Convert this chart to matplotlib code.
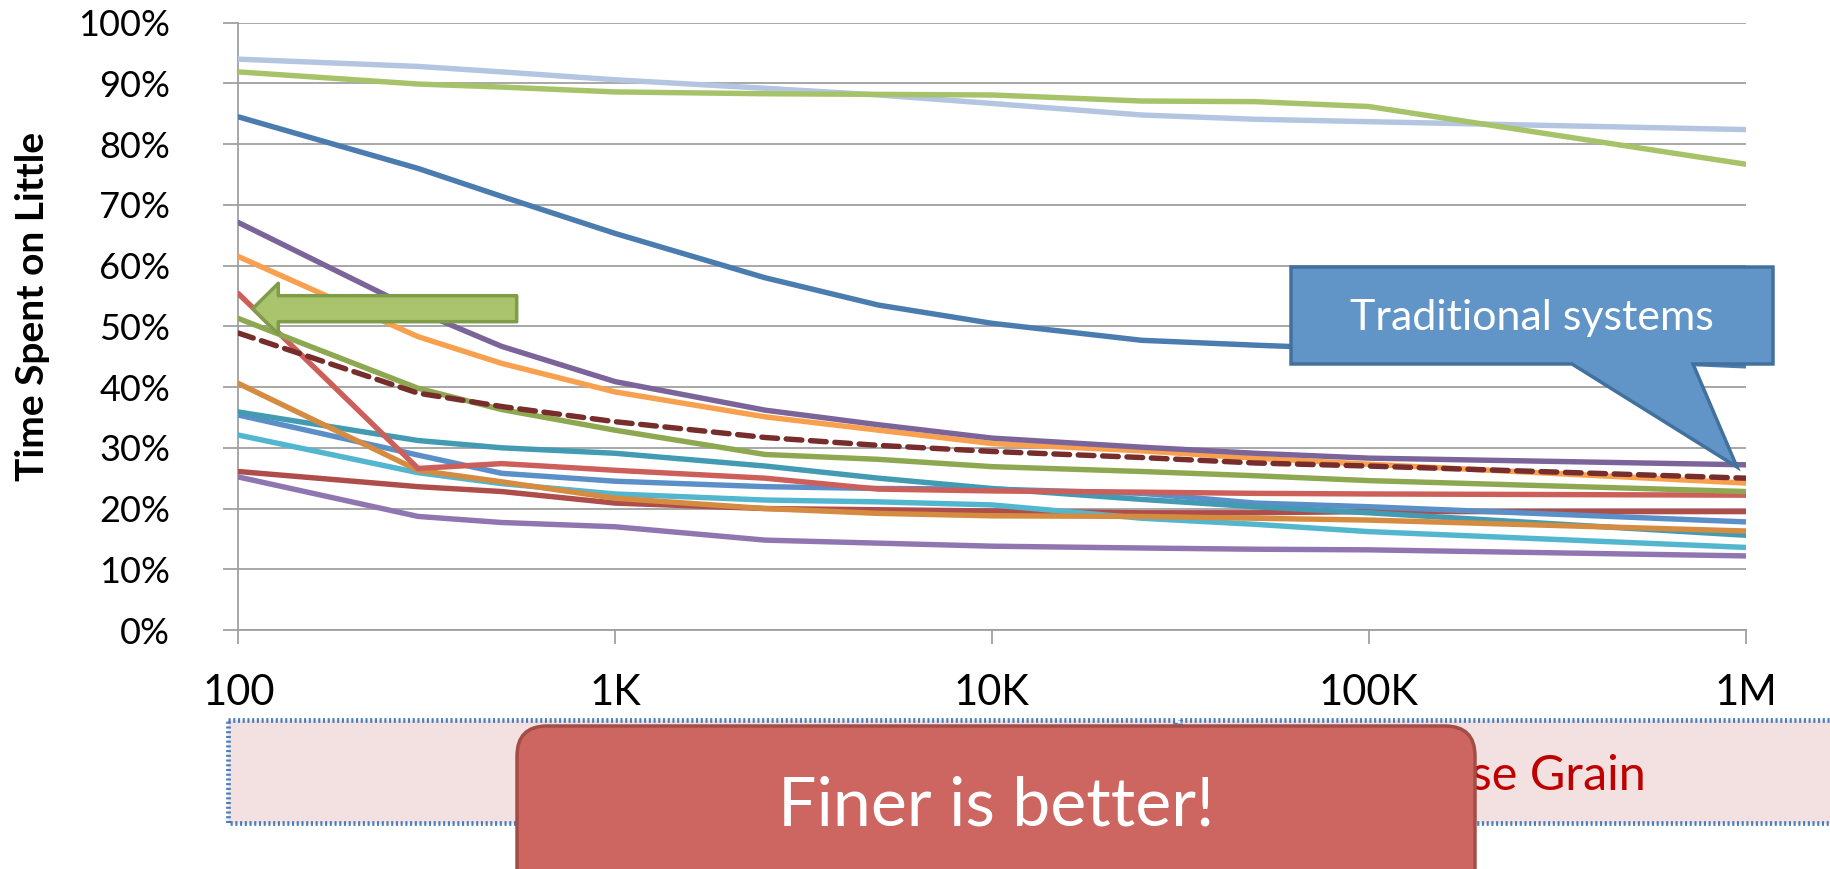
import matplotlib
matplotlib.use("Agg")
import matplotlib.pyplot as plt
from matplotlib.patches import Polygon, Rectangle, FancyBboxPatch

plt.rcParams['font.family'] = ['Lato', 'DejaVu Sans']

# grain sizes (x) and fraction of time on the little core for each run
grain = [100, 300, 500, 1000, 2500, 5000, 10000, 25000, 50000, 100000, 1000000]

light_blue = [94.0, 92.8, 91.9, 90.6, 89.2, 88.1, 86.7, 84.8, 84.1, 83.7, 82.4]
light_green = [91.9, 89.9, 89.4, 88.6, 88.3, 88.2, 88.1, 87.1, 87.0, 86.2, 76.7]
dark_blue = [84.5, 76.0, 71.4, 65.3, 58.0, 53.5, 50.5, 47.7, 46.9, 46.2, 43.5]
purple = [67.1, 52.5, 46.7, 40.9, 36.2, 33.8, 31.6, 30.1, 29.1, 28.3, 27.2]
orange = [61.5, 48.3, 43.9, 39.2, 35.1, 32.9, 30.7, 29.5, 28.3, 27.3, 24.2]
red = [55.4, 26.6, 27.4, 26.3, 25.0, 23.2, 22.9, 22.7, 22.5, 22.4, 22.2]
green = [51.3, 39.8, 36.3, 32.9, 28.9, 28.1, 26.9, 26.1, 25.4, 24.6, 22.8]
dark_orange = [40.6, 26.3, 24.4, 21.7, 20.0, 19.2, 18.8, 18.7, 18.4, 18.1, 16.3]
teal = [35.9, 31.2, 30.0, 29.1, 27.0, 25.0, 23.3, 21.5, 20.3, 19.3, 15.6]
mid_blue = [35.4, 28.8, 25.8, 24.5, 23.6, 23.3, 23.2, 22.5, 20.9, 20.3, 17.8]
cyan = [32.1, 25.9, 24.1, 22.4, 21.4, 21.1, 20.6, 18.4, 17.4, 16.2, 13.6]
dark_red = [26.1, 23.6, 22.8, 20.9, 20.0, 19.8, 19.6, 19.3, 19.3, 19.5, 19.5]
light_purple = [25.2, 18.7, 17.7, 17.0, 14.8, 14.3, 13.8, 13.5, 13.3, 13.2, 12.2]
average = [48.9, 39.0, 36.8, 34.3, 31.7, 30.4, 29.4, 28.4, 27.5, 27.0, 25.0]

series = [
    (light_blue, '#B3C5E0'),
    (light_green, '#A6C36A'),
    (dark_blue, '#4A7CB0'),
    (light_purple, '#8F76B1'),
    (dark_red, '#AE4D4A'),
    (cyan, '#52B6CF'),
    (mid_blue, '#5B8FC8'),
    (teal, '#429BB2'),
    (dark_orange, '#D58B40'),
    (red, '#CD5F5A'),
    (green, '#8EA851'),
    (orange, '#F9A04E'),
    (purple, '#7B6499'),
]

xtick_vals = [100, 1000, 10000, 100000, 1000000]
xtick_labels = ['100', '1K', '10K', '100K', '1M']

W, H = 1831, 869
fig = plt.figure(figsize=(W / 100, H / 100), dpi=100)

# main chart, placed in pixel terms
ax = fig.add_axes([238.3 / W, 1 - 630 / H, 1507.3 / W, 607.3 / H])
for vals, col in series:
    ax.plot(grain, [v / 100 for v in vals], color=col, lw=3.9,
            solid_capstyle='round', solid_joinstyle='round', zorder=3)
ax.plot(grain, [v / 100 for v in average], color='#772D2B', lw=3.9,
        dashes=(2.9, 1.6), dash_capstyle='round', zorder=4)

ax.set_xscale('log')
ax.set_xlim(100, 1e6)
ax.set_ylim(0, 1)
ax.set_xticks(xtick_vals)
ax.set_xticklabels(xtick_labels)
ax.xaxis.set_minor_locator(matplotlib.ticker.NullLocator())
ax.set_yticks([i / 10 for i in range(11)])
ax.set_yticklabels(['%d%%' % (i * 10) for i in range(11)])
ax.grid(axis='y', color='#A0A0A0', lw=1.3, zorder=1)
ax.set_axisbelow(True)
for s in ['top', 'right']:
    ax.spines[s].set_visible(False)
ax.spines['left'].set_color('#A0A0A0')
ax.spines['left'].set_linewidth(1.3)
ax.spines['bottom'].set_color('#A0A0A0')
ax.spines['bottom'].set_linewidth(1.3)
ax.tick_params(axis='y', length=11, width=1.3, color='#A0A0A0', pad=38, labelsize=26)
ax.tick_params(axis='x', length=10, width=1.3, color='#A0A0A0', pad=22, labelsize=30)
fig.text(33 / W, 1 - 306 / H, 'Time Spent on Little', fontsize=28, fontweight='bold',
         rotation=90, ha='center', va='center')

# overlay in pixel coordinates for the slide shapes
ov = fig.add_axes([0, 0, 1, 1], zorder=5)
ov.set_xlim(0, W)
ov.set_ylim(H, 0)
ov.axis('off')

# dotted grain boxes
ov.add_patch(Rectangle((228, 720), 947, 103, facecolor='#F2E1E0', edgecolor='#4A7EBB',
                       lw=3.4, linestyle=(0, (0.45, 0.55)), clip_on=False, zorder=1))
ov.add_patch(Rectangle((1180, 720), 700, 103, facecolor='#F2E1E0', edgecolor='#4A7EBB',
                       lw=3.4, linestyle=(0, (0.45, 0.55)), clip_on=False, zorder=1))
ov.text(1646, 776, 'Coarse Grain', color='#C00000', fontsize=35, ha='right', va='center',
        zorder=2)

# red rounded box
ov.add_patch(FancyBboxPatch((517, 726), 958, 220, boxstyle='round,pad=0,rounding_size=30',
                            facecolor='#CD6660', edgecolor='#A34D47', lw=2.5, clip_on=False,
                            zorder=3))
ov.text(996, 806, 'Finer is better!', color='white', fontsize=49, ha='center', va='center',
        zorder=4)

# green arrow
arrow = [(252.7, 308.7), (278.3, 283.3), (278.3, 295.7), (516.7, 295.7),
         (516.7, 321.7), (278.3, 321.7), (278.3, 334.1)]
ov.add_patch(Polygon(arrow, closed=True, facecolor='#A9C46C', edgecolor='#7E9C4A',
                     lw=2.5, joinstyle='round', zorder=3))

# callout
callout = [(1291, 267), (1773, 267), (1773, 364), (1693, 364), (1737, 467),
           (1572, 364), (1291, 364)]
ov.add_patch(Polygon(callout, closed=True, facecolor='#6195C8', edgecolor='#41719C',
                     lw=2.5, joinstyle='miter', clip_on=False, zorder=3))
ov.text(1532, 318, 'Traditional systems', color='white', fontsize=31, ha='center', va='center',
        zorder=4)

fig.savefig('out.png', dpi=100)
